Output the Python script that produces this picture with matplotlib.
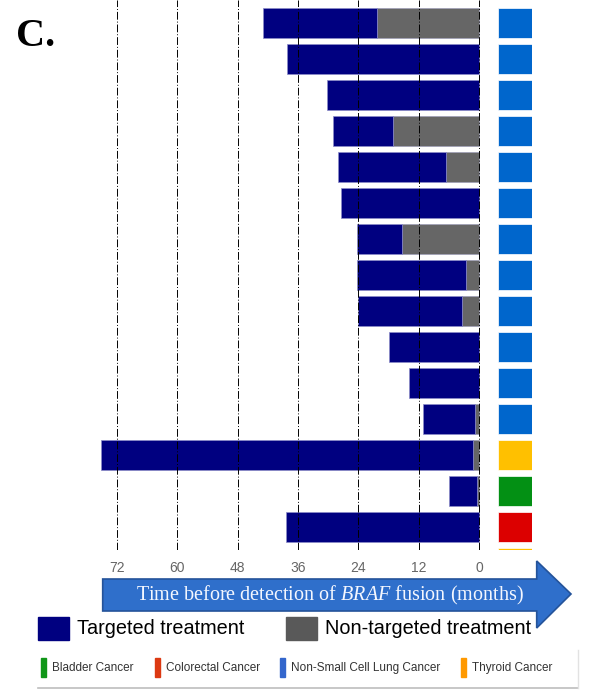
import matplotlib
matplotlib.use("Agg")
import matplotlib.pyplot as plt
from matplotlib.patches import Polygon, Rectangle
from matplotlib.lines import Line2D

plt.rcParams["font.family"] = ["Liberation Sans", "DejaVu Sans"]
plt.rcParams["mathtext.fontset"] = "custom"
plt.rcParams["mathtext.rm"] = "Liberation Serif"
plt.rcParams["mathtext.it"] = "Liberation Serif:italic"

# --- Data (months before detection of BRAF fusion) ---------------------------
non_targeted = [20.3, 0, 0, 17.2, 6.5, 0, 15.3, 2.6, 3.4, 0, 0, 0.8, 1.2, 0.3, 0]
targeted = [22.7, 38.2, 30.3, 11.9, 21.6, 27.5, 9.0, 21.7, 20.7, 17.9, 13.9, 10.3, 73.9, 5.7, 38.4]
cancer_type = ["NSCLC"] * 12 + ["Thyroid", "Bladder", "Colorectal", "Thyroid"]
x_ticks = [72, 60, 48, 36, 24, 12, 0]

square_colors = {"NSCLC": "#0066cc", "Thyroid": "#ffc000",
                 "Bladder": "#039014", "Colorectal": "#dc0000"}
legend_names = ["Bladder Cancer", "Colorectal Cancer",
                "Non-Small Cell Lung Cancer", "Thyroid Cancer"]
legend_colors = ["#109618", "#dc3912", "#3366cc", "#ff9900"]

W, H = 598, 700
NAVY, GRAY = "#000080", "#666666"


def fx(px):
    return px / W


def fy(py):
    return 1 - py / H


fig = plt.figure(figsize=(W / 100, H / 100), dpi=100)

# --- Main bar axes -------------------------------------------------------------
ax_l, ax_r, ax_t, ax_b = 95, 490, 0, 550
ax = fig.add_axes([fx(ax_l), fy(ax_b), fx(ax_r) - fx(ax_l), (ax_b - ax_t) / H])
ppm = (479 - 117) / 72.0  # pixels per month
ax.set_xlim((479 - ax_l) / ppm, (479 - ax_r) / ppm)
row_px = 36.0
ax.set_ylim((ax_b - 23) / row_px, (ax_t - 23) / row_px)

rows = list(range(len(targeted)))
ax.barh(rows, non_targeted, height=0.83, color=GRAY, edgecolor="#9a9ab8", linewidth=0.4)
ax.barh(rows, targeted, left=non_targeted, height=0.83, color=NAVY,
        edgecolor="#8c8cc8", linewidth=0.5)

ax.set_xticks(x_ticks)
ax.set_xticklabels([str(t) for t in x_ticks])
ax.tick_params(axis="x", length=0, pad=8, labelsize=10, labelcolor="#666666")
ax.set_yticks([])
ax.grid(axis="x", color="black", linestyle=(0, (8, 2, 1, 2)), linewidth=0.7)
ax.set_axisbelow(False)
for s in ax.spines.values():
    s.set_visible(False)

# --- Cancer type column -------------------------------------------------------
sq = fig.add_axes([fx(498), fy(ax_b), fx(532) - fx(498), (ax_b - ax_t) / H])
sq.set_xlim(0, 1)
sq.set_ylim(ax.get_ylim())
sq.barh(range(len(cancer_type)), [1] * len(cancer_type), height=0.84,
        color=[square_colors[c] for c in cancer_type], edgecolor="white", linewidth=0.5)
sq.axis("off")

# --- Panel label ----------------------------------------------------------------
fig.text(fx(16), fy(36), "C.", fontsize=29, fontweight="bold",
         family="Liberation Serif", va="center", ha="left")

# --- Arrow with axis title --------------------------------------------------------
arrow_pts = [(102.7, 579), (536.7, 579), (536.7, 561), (571, 594),
             (536.7, 628), (536.7, 611), (102.7, 611)]
fig.add_artist(Polygon([(fx(x), fy(y)) for x, y in arrow_pts], closed=True,
                       transform=fig.transFigure, facecolor="#2f6fcb",
                       edgecolor="#24539a", linewidth=1.2))
fig.text(fx(330), fy(595), r"Time before detection of $\mathit{BRAF}$ fusion (months)",
         family="Liberation Serif", fontsize=14.5, color="#f4f7ff",
         ha="center", va="center")

# --- Treatment legend -------------------------------------------------------------
for x0, col, label in [(38, NAVY, "Targeted treatment"),
                       (286, "#595959", "Non-targeted treatment")]:
    fig.add_artist(Rectangle((fx(x0), fy(640)), fx(31), 23 / H,
                             transform=fig.transFigure, color=col))
    fig.text(fx(x0 + 39), fy(629), label, fontsize=14.3, ha="left", va="center")

# --- Cancer type legend box ---------------------------------------------------------
fig.add_artist(Line2D([fx(38), fx(578)], [fy(688), fy(688)], transform=fig.transFigure,
                      color="#bdbdbd", linewidth=1.2))
fig.add_artist(Line2D([fx(578), fx(578)], [fy(650), fy(688)], transform=fig.transFigure,
                      color="#e2e2e2", linewidth=1.0))
for x0, col, name in zip([41, 155, 280, 461], legend_colors, legend_names):
    fig.add_artist(Rectangle((fx(x0), fy(677)), fx(4.5), 19 / H,
                             transform=fig.transFigure, color=col))
    fig.text(fx(x0 + 11), fy(668), name, fontsize=8.5, color="#333333",
             ha="left", va="center")

fig.savefig("out.png", dpi=100)
